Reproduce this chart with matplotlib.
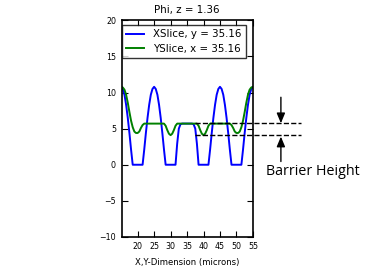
import numpy as np
import matplotlib
matplotlib.use("Agg")
import matplotlib.pyplot as plt

# sample positions along the slice (microns)
pos = np.arange(15.0, 55.51, 0.5)

# XSlice, y = 35.16
xslice = [10.8, 10.5, 9.7, 8.3, 6.5, 4.4, 2.1, 0.0, 0.0, 0.0,
          0.0, 0.0, 0.0, 0.0, 2.1, 4.4, 6.5, 8.3, 9.7, 10.5,
          10.8, 10.5, 9.7, 8.3, 6.5, 4.4, 2.1, 0.0, 0.0, 0.0,
          0.0, 0.0, 0.0, 0.0, 2.9, 5.0, 5.6, 5.7, 5.7, 5.7,
          5.7, 5.7, 5.7, 5.7, 5.6, 5.0, 2.9, 0.0, 0.0, 0.0,
          0.0, 0.0, 0.0, 0.0, 2.1, 4.4, 6.5, 8.3, 9.7, 10.5,
          10.8, 10.5, 9.7, 8.3, 6.5, 4.4, 2.1, 0.0, 0.0, 0.0,
          0.0, 0.0, 0.0, 0.0, 2.1, 4.4, 6.5, 8.3, 9.7, 10.5,
          10.8, 10.5]

# YSlice, x = 35.16
yslice = [10.8, 10.7, 10.4, 9.7, 8.6, 7.3, 6.1, 5.2, 4.6, 4.4,
          4.4, 4.6, 5.1, 5.5, 5.7, 5.7, 5.7, 5.7, 5.7, 5.7,
          5.7, 5.7, 5.7, 5.7, 5.7, 5.7, 5.7, 5.4, 4.8, 4.3,
          4.1, 4.3, 4.8, 5.4, 5.7, 5.7, 5.7, 5.7, 5.7, 5.7,
          5.7, 5.7, 5.7, 5.7, 5.7, 5.7, 5.7, 5.4, 4.8, 4.3,
          4.1, 4.3, 4.8, 5.4, 5.7, 5.7, 5.7, 5.7, 5.7, 5.7,
          5.7, 5.7, 5.7, 5.7, 5.7, 5.7, 5.7, 5.5, 5.1, 4.6,
          4.4, 4.4, 4.6, 5.2, 6.1, 7.3, 8.6, 9.7, 10.4, 10.7,
          10.8, 10.8]

xticks = [20, 25, 30, 35, 40, 45, 50, 55]
yticks = [-10, -5, 0, 5, 10, 15, 20]

# barrier levels (plateau and dip minimum)
barrier_top = 5.75
barrier_bottom = 4.1

fig = plt.figure(figsize=(3.66, 2.72), dpi=100)
ax = fig.add_axes([0.332, 0.129, 0.359, 0.796])

ax.plot(pos, xslice, color="#0000ff", lw=1.4, label="XSlice, y = 35.16")
ax.plot(pos, yslice, color="#008000", lw=1.4, label="YSlice, x = 35.16")

ax.set_xlim(15.1, 55.0)
ax.set_ylim(-10, 20)
ax.set_xticks(xticks)
ax.set_yticks(yticks)
ax.tick_params(direction="in", top=True, right=True, length=4, width=0.8,
               labelsize=5.7, pad=4)
for s in ax.spines.values():
    s.set_linewidth(1.2)

ax.set_title("Phi, z = 1.36", fontsize=7.4, pad=5)
ax.set_xlabel("X,Y-Dimension (microns)", fontsize=6.1, labelpad=5)

leg = ax.legend(loc="upper left", bbox_to_anchor=(0.0, 0.978), borderaxespad=0,
                fontsize=7.4, fancybox=False, handlelength=1.8,
                handletextpad=0.9, borderpad=0.4, labelspacing=0.45)
leg.get_frame().set_edgecolor("k")
leg.get_frame().set_linewidth(1.0)

# barrier height annotation
ax.plot([37.5, 69.7], [barrier_top, barrier_top], "k--", lw=1, clip_on=False)
ax.plot([37.5, 69.7], [barrier_bottom, barrier_bottom], "k--", lw=1, clip_on=False)
arr = dict(arrowstyle="-|>,head_length=0.6,head_width=0.25", color="k", lw=1,
           mutation_scale=10, shrinkA=0, shrinkB=0)
ax.annotate("", xy=(63.5, barrier_top), xytext=(63.5, 9.35),
            arrowprops=arr, annotation_clip=False)
ax.annotate("", xy=(63.5, barrier_bottom - 0.2), xytext=(63.5, 0.45),
            arrowprops=arr, annotation_clip=False)
ax.text(59.0, -1.4, "Barrier Height", fontsize=10.3, family="Open Sans",
        va="baseline", ha="left", clip_on=False)

fig.savefig("out.png", dpi=100)
